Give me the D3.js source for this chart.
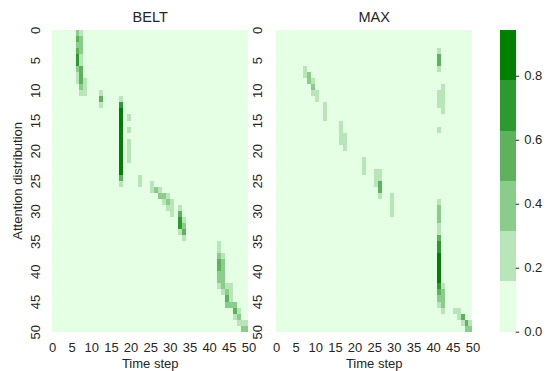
<!DOCTYPE html>
<html>
<head>
<meta charset="utf-8">
<script src="https://d3js.org/d3.v7.min.js"></script>
<style>
  body { margin: 0; background: #fff; }
  text { font-family: "Liberation Sans", Arial, sans-serif; }
</style>
</head>
<body>
<div id="chart"></div>
<script>
// Tick labels
var timeTicks = [0, 5, 10, 15, 20, 25, 30, 35, 40, 45, 50];
var distTicks = [0, 5, 10, 15, 20, 25, 30, 35, 40, 45, 50];
var cbarTicks = [0.0, 0.2, 0.4, 0.6, 0.8];
var nSteps = 50;
var vmax = 0.943;

// Non-zero attention cells: [time step, distribution row, weight]
var beltCells = [
  [6,0,.40],[6,1,.55],[6,2,.40],[6,3,.55],[6,4,.70],[6,5,.70],[6,6,.40],[6,7,.22],[6,8,.22],
  [7,0,.22],[7,1,.40],[7,2,.40],[7,3,.40],[7,4,.22],[7,5,.22],[7,6,.55],[7,7,.55],[7,8,.55],[7,9,.40],[7,10,.22],
  [8,8,.22],[8,9,.22],[8,10,.22],
  [12,10,.22],[12,11,.55],[12,12,.22],
  [17,11,.22],[17,12,.72],[17,13,.92],[17,14,.92],[17,15,.92],[17,16,.92],[17,17,.92],[17,18,.92],
  [17,19,.92],[17,20,.92],[17,21,.92],[17,22,.92],[17,23,.92],[17,24,.55],[17,25,.22],
  [19,14,.22],[19,16,.22],[19,18,.22],[19,19,.22],[19,20,.22],[19,21,.22],
  [22,24,.22],[22,25,.22],
  [25,25,.22],[25,26,.22],
  [26,26,.40],
  [27,26,.22],[27,27,.40],
  [28,27,.40],[28,28,.22],
  [29,27,.22],[29,28,.40],[29,29,.22],
  [30,28,.22],[30,29,.22],[30,30,.22],
  [32,29,.22],[32,30,.55],[32,31,.70],[32,32,.70],[32,33,.22],
  [33,31,.22],[33,32,.40],[33,33,.55],[33,34,.22],
  [42,35,.22],[42,36,.22],[42,37,.40],[42,38,.55],[42,39,.55],[42,40,.40],[42,41,.40],[42,42,.22],
  [43,37,.22],[43,38,.40],[43,39,.40],[43,40,.40],[43,41,.40],[43,42,.40],[43,43,.22],
  [44,42,.22],[44,43,.40],[44,44,.55],[44,45,.40],
  [45,42,.22],[45,43,.22],[45,44,.22],[45,45,.40],
  [46,45,.40],[46,46,.55],[46,47,.22],
  [47,46,.22],[47,47,.40],[47,48,.22],
  [48,48,.22],[48,49,.40],
  [49,48,.22],[49,49,.40]
];

var maxCells = [
  [7,6,.22],[7,7,.22],
  [8,7,.40],[8,8,.40],
  [9,8,.22],[9,9,.40],[9,10,.22],
  [10,10,.22],[10,11,.22],
  [12,12,.22],[12,13,.22],[12,14,.22],
  [16,15,.22],[16,16,.22],[16,17,.22],[16,18,.22],
  [17,17,.22],[17,18,.22],[17,19,.22],
  [22,21,.22],[22,22,.22],[22,23,.22],
  [25,23,.22],[25,24,.22],[25,25,.22],
  [26,23,.22],[26,24,.22],[26,25,.55],[26,26,.55],[26,27,.22],
  [29,27,.22],[29,28,.22],[29,29,.22],[29,30,.22],
  [41,3,.22],[41,4,.55],[41,5,.55],[41,6,.22],[41,10,.22],[41,11,.22],[41,12,.22],[41,16,.22],
  [41,28,.22],[41,29,.40],[41,30,.40],[41,31,.40],[41,32,.22],[41,33,.22],[41,34,.55],
  [41,35,.70],[41,36,.70],[41,37,.92],[41,38,.92],[41,39,.92],[41,40,.92],[41,41,.92],
  [41,42,.70],[41,43,.55],[41,44,.40],[41,45,.22],
  [42,9,.22],[42,10,.22],[42,11,.22],[42,12,.22],[42,13,.22],
  [42,42,.22],[42,43,.40],[42,44,.40],[42,45,.40],[42,46,.22],
  [45,46,.22],[46,46,.22],[46,47,.22],
  [47,47,.55],[47,48,.22],
  [48,48,.55],[48,49,.40],
  [49,48,.22],[49,49,.40]
];

// Layout
var width = 549, height = 371;
var plotTop = 30, hmH = 301.7, hmW = 196.4;
var panels = [
  { title: "BELT", cells: beltCells, left: 52, labelGap: 12 },
  { title: "MAX", cells: maxCells, left: 276, labelGap: 14 }
];
var cbar = { left: 500, width: 15.7 };
var ink = "#262626";
var fs = 13;

var palette = ["#e5ffe5", "#b8e6b8", "#8acc8a", "#5cb35c", "#2e992e", "#008000"];
var color = d3.scaleQuantize().domain([0, vmax]).range(palette);

var svg = d3.select("#chart")
  .append("svg")
  .attr("width", width)
  .attr("height", height);

var x = d3.scaleLinear().domain([0, nSteps]).range([0, hmW]);
var y = d3.scaleLinear().domain([0, nSteps]).range([0, hmH]);

panels.forEach(function (p, i) {
  // Build the full grid from the sparse cells
  var lookup = new Map(p.cells.map(function (c) { return [c[0] + "," + c[1], c[2]]; }));
  var grid = [];
  d3.range(nSteps).forEach(function (r) {
    d3.range(nSteps).forEach(function (c) {
      grid.push({ c: c, r: r, v: lookup.get(c + "," + r) || 0 });
    });
  });

  var g = svg.append("g").attr("transform", "translate(" + p.left + "," + plotTop + ")");

  g.selectAll("rect")
    .data(grid)
    .enter()
    .append("rect")
    .attr("x", function (d) { return x(d.c); })
    .attr("y", function (d) { return y(d.r); })
    .attr("width", function (d) { return x(d.c + 1) - x(d.c); })
    .attr("height", function (d) { return y(d.r + 1) - y(d.r); })
    .attr("fill", function (d) { return color(d.v); })
    .attr("shape-rendering", "crispEdges");

  // X axis
  var xa = g.append("g")
    .attr("transform", "translate(0," + hmH + ")")
    .call(d3.axisBottom(x).tickValues(timeTicks).tickSize(0).tickPadding(10.8));
  xa.select(".domain").remove();
  xa.attr("font-size", fs).attr("font-family", null).attr("color", ink);

  // Y axis, labels rotated
  var ya = g.append("g")
    .call(d3.axisLeft(y).tickValues(distTicks).tickSize(0));
  ya.select(".domain").remove();
  ya.attr("font-size", fs).attr("font-family", null).attr("color", ink);
  ya.selectAll("text")
    .attr("x", 0)
    .attr("dy", 0)
    .attr("text-anchor", "middle")
    .attr("transform", "translate(" + (-p.labelGap) + ",0) rotate(-90)");

  // Title
  g.append("text")
    .attr("x", hmW / 2)
    .attr("y", -8.3)
    .attr("text-anchor", "middle")
    .attr("font-size", 14.5)
    .attr("fill", ink)
    .text(p.title);

  // Axis labels
  g.append("text")
    .attr("x", hmW / 2)
    .attr("y", hmH + 36.5)
    .attr("text-anchor", "middle")
    .attr("font-size", fs)
    .attr("fill", ink)
    .text("Time step");

  if (i === 0) {
    g.append("text")
      .attr("transform", "translate(-30.5," + hmH / 2 + ") rotate(-90)")
      .attr("text-anchor", "middle")
      .attr("font-size", fs)
      .attr("fill", ink)
      .text("Attention distribution");
  }
});

// Colorbar
var yc = d3.scaleLinear().domain([0, vmax]).range([plotTop + hmH, plotTop]);
var cg = svg.append("g").attr("transform", "translate(" + cbar.left + ",0)");

cg.selectAll("rect")
  .data(palette)
  .enter()
  .append("rect")
  .attr("x", 0)
  .attr("width", cbar.width)
  .attr("y", function (d) { return yc(color.invertExtent(d)[1]); })
  .attr("height", function (d) {
    var e = color.invertExtent(d);
    return yc(e[0]) - yc(e[1]);
  })
  .attr("fill", function (d) { return d; })
  .attr("shape-rendering", "crispEdges");

var ca = cg.append("g")
  .attr("transform", "translate(" + cbar.width + ",0)")
  .call(d3.axisRight(yc).tickValues(cbarTicks).tickSize(3.5).tickPadding(5).tickFormat(d3.format(".1f")));
ca.select(".domain").remove();
ca.attr("font-size", fs).attr("font-family", null).attr("color", ink);
ca.selectAll("line").attr("stroke-width", 1);
</script>
</body>
</html>
